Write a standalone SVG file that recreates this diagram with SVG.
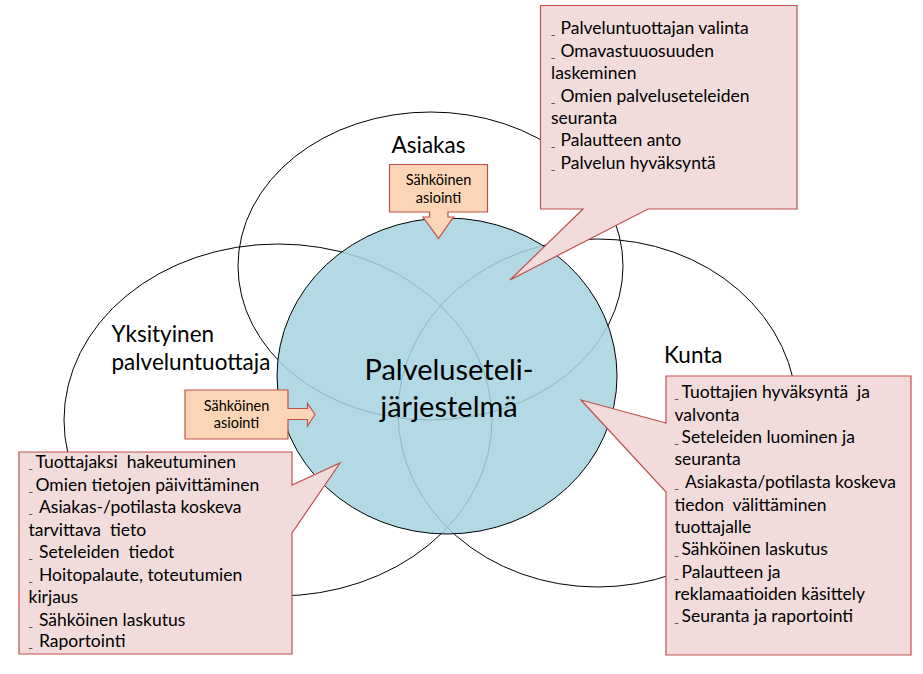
<svg xmlns="http://www.w3.org/2000/svg" width="923" height="674" viewBox="0 0 923 674">
<style>
text{font-family:Lato,"Liberation Sans",sans-serif;fill:#000}
.ell{fill:none;stroke:#000;stroke-width:1}
.core{fill:#A5D3E0;fill-opacity:0.86;stroke:#000;stroke-width:1}
.call{fill:#F2DCDB;stroke:#C0504D;stroke-width:1.2}
.arr{fill:#FBD5B5;stroke:#C0504D;stroke-width:1.2}
.ct{font-size:17.5px}
.lab{font-size:22.5px}
.sm{font-size:14.5px;text-anchor:middle}
.big{font-size:29px;text-anchor:middle}
.d{font-size:9px}
</style>
<rect width="923" height="674" fill="#fff"/>
<g id="asiakas">
<ellipse class="ell" cx="430.5" cy="266" rx="192.5" ry="154"/>
<text class="lab" x="391.5" y="152.5">Asiakas</text>
</g>
<g id="yksityinen">
<ellipse class="ell" cx="278" cy="420" rx="214" ry="176"/>
<text class="lab" x="111.5" y="341.5">Yksityinen</text>
<text class="lab" x="111.5" y="369.5">palveluntuottaja</text>
</g>
<g id="kunta">
<ellipse class="ell" cx="597.5" cy="413" rx="199.5" ry="174"/>
<text class="lab" x="664" y="363">Kunta</text>
</g>
<g id="jarjestelma">
<ellipse class="core" cx="447" cy="376" rx="170" ry="158"/>
<text class="big" x="449" y="379.5">Palveluseteli-</text>
<text class="big" x="449" y="416.5">järjestelmä</text>
</g>
<g id="connectors">
<g id="asiointi-asiakas">
<path class="arr" d="M389.5,164.5 H487.5 V212 H448 V217 H453.5 L438.5,238.5 L423,217 H429.5 V212 H389.5 Z"/>
<text class="sm" x="438.5" y="185">Sähköinen</text>
<text class="sm" x="438.5" y="202.5">asiointi</text>
</g>
<g id="asiointi-tuottaja">
<path class="arr" d="M185,390 H288 V408.5 H307.5 V403.5 L315,414.5 L307.5,426 V419.5 H288 V439 H185 Z"/>
<text class="sm" x="236.5" y="410.7">Sähköinen</text>
<text class="sm" x="236.5" y="428.3">asiointi</text>
</g>
</g>
<g id="callout-asiakas">
<path class="call" d="M540.5,5.5 H797 V209 H648 L510,280 L583,209 H540.5 Z"/>
<text class="ct" x="551" y="34"><tspan class="d">_</tspan><tspan x="560.5">Palveluntuottajan valinta</tspan></text>
<text class="ct" x="551" y="56.5"><tspan class="d">_</tspan><tspan x="560.5">Omavastuuosuuden</tspan></text>
<text class="ct" x="551" y="79">laskeminen</text>
<text class="ct" x="551" y="101.5"><tspan class="d">_</tspan><tspan x="560.5">Omien palveluseteleiden</tspan></text>
<text class="ct" x="551" y="123.5">seuranta</text>
<text class="ct" x="551" y="146"><tspan class="d">_</tspan><tspan x="560.5">Palautteen anto</tspan></text>
<text class="ct" x="551" y="168.5"><tspan class="d">_</tspan><tspan x="560.5">Palvelun hyväksyntä</tspan></text>
</g>
<g id="callout-tuottaja">
<path class="call" d="M19,452 H292 V485 L340,463 L292,533 V654 H19 Z"/>
<text class="ct" x="28.5" y="468" xml:space="preserve"><tspan class="d">_</tspan><tspan x="35.5">Tuottajaksi  hakeutuminen</tspan></text>
<text class="ct" x="28.5" y="490.5"><tspan class="d">_</tspan><tspan x="35.5">Omien tietojen päivittäminen</tspan></text>
<text class="ct" x="28.5" y="513"><tspan class="d">_</tspan><tspan x="39">Asiakas-/potilasta koskeva</tspan></text>
<text class="ct" x="28.5" y="535.5" xml:space="preserve">tarvittava  tieto</text>
<text class="ct" x="28.5" y="558" xml:space="preserve"><tspan class="d">_</tspan><tspan x="39">Seteleiden  tiedot</tspan></text>
<text class="ct" x="28.5" y="580.5"><tspan class="d">_</tspan><tspan x="39">Hoitopalaute, toteutumien</tspan></text>
<text class="ct" x="28.5" y="603">kirjaus</text>
<text class="ct" x="28.5" y="625.5"><tspan class="d">_</tspan><tspan x="39">Sähköinen laskutus</tspan></text>
<text class="ct" x="28.5" y="647"><tspan class="d">_</tspan><tspan x="39">Raportointi</tspan></text>
</g>
<g id="callout-kunta">
<path class="call" d="M666,376 H911 V655 H666 V492 L581,400 L666,423 Z"/>
<text class="ct" x="674.5" y="398" xml:space="preserve"><tspan class="d">_</tspan><tspan x="681.5">Tuottajien hyväksyntä  ja</tspan></text>
<text class="ct" x="674.5" y="420.5">valvonta</text>
<text class="ct" x="674.5" y="443"><tspan class="d">_</tspan><tspan x="681.5">Seteleiden luominen ja</tspan></text>
<text class="ct" x="674.5" y="465">seuranta</text>
<text class="ct" x="674.5" y="488"><tspan class="d">_</tspan><tspan x="685">Asiakasta/potilasta koskeva</tspan></text>
<text class="ct" x="674.5" y="510.5" xml:space="preserve">tiedon  välittäminen</text>
<text class="ct" x="674.5" y="533">tuottajalle</text>
<text class="ct" x="674.5" y="555"><tspan class="d">_</tspan><tspan x="681.5">Sähköinen laskutus</tspan></text>
<text class="ct" x="674.5" y="577.5"><tspan class="d">_</tspan><tspan x="681.5">Palautteen ja</tspan></text>
<text class="ct" x="674.5" y="600">reklamaatioiden käsittely</text>
<text class="ct" x="674.5" y="622"><tspan class="d">_</tspan><tspan x="681.5">Seuranta ja raportointi</tspan></text>
</g>
</svg>
